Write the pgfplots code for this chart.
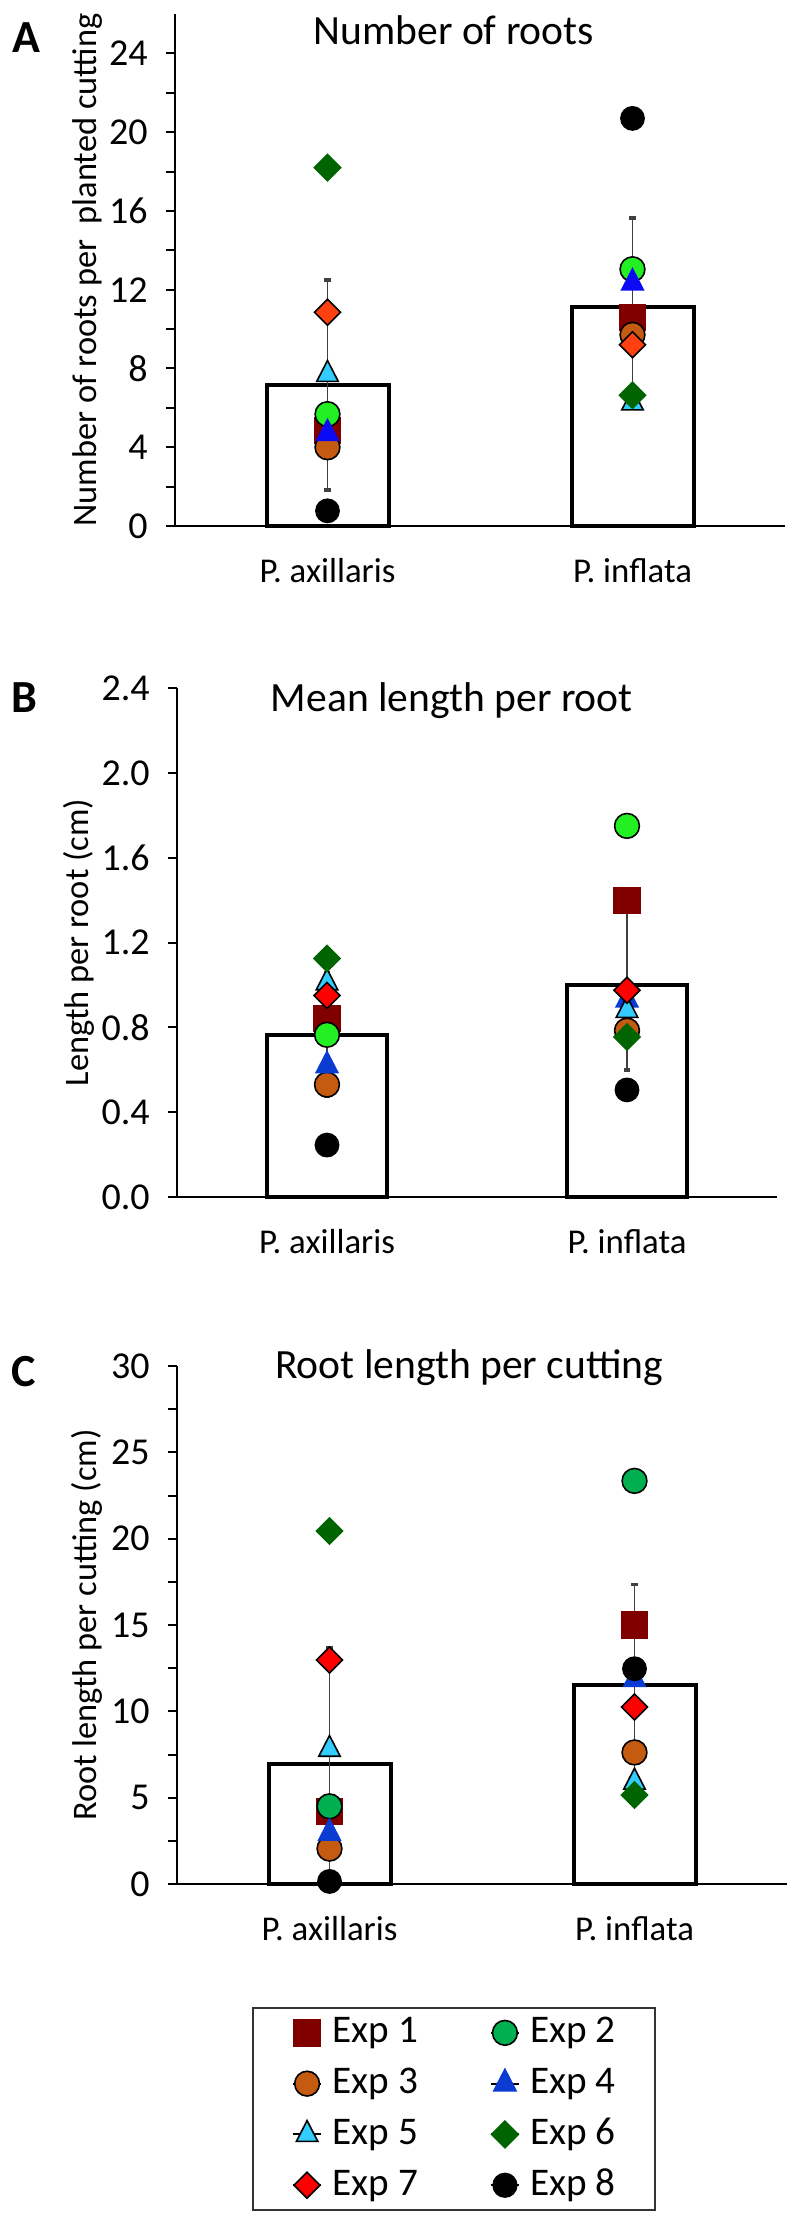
\documentclass[border=0pt]{standalone}
\usepackage{fontspec}
\setmainfont{Carlito}
\usepackage{pgfplots}
\pgfplotsset{compat=1.18}

\definecolor{cMaroon}{HTML}{800000}
\definecolor{cLime}{HTML}{22F022}
\definecolor{cGreen}{HTML}{00B050}
\definecolor{cOrange}{HTML}{C55A11}
\definecolor{cBlueA}{HTML}{0A0AF5}
\definecolor{cBlue}{HTML}{0A3CD2}
\definecolor{cCyan}{HTML}{33CCFF}
\definecolor{cDkGreen}{HTML}{006400}
\definecolor{cRedA}{HTML}{FF4010}
\definecolor{cRed}{HTML}{FF0000}

\pgfplotsset{
  panel/.style={
    scale only axis, anchor=south west,
    xmin=-0.5, xmax=1.5, ymin=0,
    axis x line*=bottom, axis y line*=left,
    axis line style={-, line width=0.5pt, black},
    x axis line style={shorten <=-2.3pt},
    xtick=\empty,
    tick align=outside, major tick length=2.3pt, minor tick length=2.3pt,
    tick style={line width=0.5pt, black},
    /pgf/number format/assume math mode=true,
    yticklabel style={font=\fontsize{9.5}{11}\selectfont, xshift=-1pt},
    clip=false,
  },
  barstyle/.style={forget plot, ybar, bar width=0.4, fill=white, draw=black, line width=1pt,
    error bars/y dir=both, error bars/y explicit,
    error bars/error bar style={line width=0.45pt, draw=black!75},
    error bars/error mark options={rotate=90, mark size=0.8pt, line width=0.9pt, black!75}},
  m1/.style={only marks, mark=square*, mark size=3.2pt, mark options={fill=cMaroon, draw=cMaroon}},
  m2/.style={only marks, mark=*, mark size=3.1pt, mark options={fill=#1, draw=black, line width=0.4pt}},
  m3/.style={only marks, mark=*, mark size=3.1pt, mark options={fill=cOrange, draw=black, line width=0.4pt}},
  m4/.style={only marks, mark=triangle*, mark size=3.1pt, mark options={yscale=1.12, fill=#1, draw=#1}},
  m5/.style={only marks, mark=triangle*, mark size=3.1pt, mark options={yscale=1.12, fill=cCyan, draw=black, line width=0.4pt}},
  m6/.style={only marks, mark=square*, mark size=2.3pt, mark options={rotate=45, fill=cDkGreen, draw=cDkGreen}},
  m7/.style={only marks, mark=square*, mark size=2.3pt, mark options={rotate=45, fill=#1, draw=black, line width=0.4pt}},
  m8/.style={only marks, mark=*, mark size=2.9pt, mark options={fill=black, draw=black}},
}
\newcommand{\ttl}{\fontsize{10.4}{12}\selectfont}
\newcommand{\lbl}{\fontsize{8.6}{10}\selectfont}
\newcommand{\cat}{\fontsize{8.7}{10}\selectfont}

\begin{document}
\begin{tikzpicture}
\useasboundingbox (0,0) rectangle (199.5pt,-555pt);

% ---------------- Panel A ----------------
\begin{axis}[panel, at={(43.75pt,-131.5pt)}, width=152.5pt, height=128pt,
  ymax=26, ytick={0,4,...,24}, minor y tick num=1]
\addplot[barstyle] coordinates {(0,7.17) +- (0,5.33) (1,11.14) +- (0,4.49)};
\addplot[m1] coordinates {(0,4.86) (1,10.59)};
\addplot[m2=cLime] coordinates {(0,5.68) (1,13.04)};
\addplot[m3] coordinates {(0,4.00) (1,9.71)};
\addplot[m4=cBlueA] coordinates {(0,4.70) (1,12.35)};
\addplot[m5] coordinates {(0,7.70) (1,6.25)};
\addplot[m6] coordinates {(0,18.20) (1,6.64)};
\addplot[m7=cRedA] coordinates {(0,10.86) (1,9.21)};
\addplot[m8] coordinates {(0,0.77) (1,20.70)};
\node[font=\ttl] at (rel axis cs:0.457,0.969) {Number of roots};
\node[font=\lbl, rotate=90] at (rel axis cs:-0.144,0.5) {Number of roots per\ \ planted cutting};
\node[font=\cat] at (axis cs:0,0) [yshift=-11.25pt] {P. axillaris};
\node[font=\cat] at (axis cs:1,0) [yshift=-11.25pt] {P. inflata};
\end{axis}
\node[font=\bfseries\fontsize{11.5}{12}\selectfont] at (6.5pt,-9.4pt) {A};

% ---------------- Panel B ----------------
\begin{axis}[panel, at={(44.25pt,-299.25pt)}, width=150pt, height=127.25pt,
  ymax=2.4, ytick={0,0.4,...,2.4},
  yticklabel style={/pgf/number format/.cd, fixed, fixed zerofill, precision=1}]
\addplot[barstyle] coordinates {(0,0.765) +- (0,0.29) (1,1.00) +- (0,0.40)};
\addplot[m1] coordinates {(0,0.84) (1,1.40)};
\addplot[m2=cLime] coordinates {(0,0.765) (1,1.75)};
\addplot[m3] coordinates {(0,0.53) (1,0.785)};
\addplot[m4=cBlue] coordinates {(0,0.62) (1,0.93)};
\addplot[m5] coordinates {(0,1.01) (1,0.88)};
\addplot[m6] coordinates {(0,1.125) (1,0.755)};
\addplot[m7=cRed] coordinates {(0,0.95) (1,0.975)};
\addplot[m8] coordinates {(0,0.245) (1,0.505)};
\node[font=\ttl] at (rel axis cs:0.458,0.976) {Mean length per root};
\node[font=\lbl, rotate=90] at (rel axis cs:-0.163,0.5) {Length per root (cm)};
\node[font=\cat] at (axis cs:0,0) [yshift=-11.25pt] {P. axillaris};
\node[font=\cat] at (axis cs:1,0) [yshift=-11.25pt] {P. inflata};
\end{axis}
\node[font=\bfseries\fontsize{11.5}{12}\selectfont] at (6.2pt,-174.3pt) {B};

% ---------------- Panel C ----------------
\begin{axis}[panel, at={(44.25pt,-471pt)}, width=152.5pt, height=129.5pt,
  ymax=30, ytick={0,5,...,30}, minor y tick num=1,
  legend columns=2,
  legend cell align=left,
  legend image code/.code={\path (-3.5pt,0pt) -- (3.5pt,0pt); \draw[#1] plot coordinates {(0pt,0pt)};},
  legend style={at={(axis description cs:0.454,-0.2375)}, anchor=north,
    draw=black!80, line width=0.5pt, font=\fontsize{9.8}{11}\selectfont,
    inner xsep=9.7pt, inner ysep=1.7pt, row sep=3.7pt,
    nodes={inner sep=0pt, text height=7pt, text depth=2pt},
    /tikz/column 1/.style={column sep=2.6pt},
    /tikz/column 2/.style={column sep=18pt},
    /tikz/column 3/.style={column sep=2.6pt}}]
\addplot[barstyle] coordinates {(0,6.95) +- (0,6.72) (1,11.55) +- (0,5.80)};
\addplot[m1] coordinates {(0,4.20) (1,15.00)};
\addlegendentry{Exp 1}
\addplot[m2=cGreen] coordinates {(0,4.50) (1,23.35)};
\addlegendentry{Exp 2}
\addplot[m3] coordinates {(0,2.05) (1,7.62)};
\addlegendentry{Exp 3}
\addplot[m4=cBlue] coordinates {(0,2.95) (1,11.85)};
\addlegendentry{Exp 4}
\addplot[m5] coordinates {(0,7.80) (1,5.90)};
\addlegendentry{Exp 5}
\addplot[m6] coordinates {(0,20.45) (1,5.16)};
\addlegendentry{Exp 6}
\addplot[m7=cRed] coordinates {(0,12.98) (1,10.25)};
\addlegendentry{Exp 7}
\addplot[m8] coordinates {(0,0.15) (1,12.47)};
\addlegendentry{Exp 8}
\node[font=\ttl] at (rel axis cs:0.479,0.996) {Root length per cutting};
\node[font=\lbl, rotate=90] at (rel axis cs:-0.148,0.5) {Root length per cutting (cm)};
\node[font=\cat] at (axis cs:0,0) [yshift=-11.25pt] {P. axillaris};
\node[font=\cat] at (axis cs:1,0) [yshift=-11.25pt] {P. inflata};
\end{axis}
\node[font=\bfseries\fontsize{11.5}{12}\selectfont] at (6pt,-342.8pt) {C};
\end{tikzpicture}
\end{document}
